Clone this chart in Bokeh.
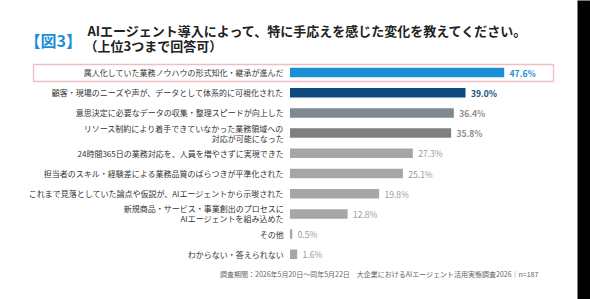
from bokeh.plotting import figure
from bokeh.models import ColumnDataSource, Range1d, Label, BoxAnnotation
from bokeh.core.properties import value
from bokeh.embed import file_html
from bokeh.resources import INLINE

categories = [
    "属人化していた業務ノウハウの形式知化・継承が進んだ",
    "顧客・現場のニーズや声が、データとして体系的に可視化された",
    "意思決定に必要なデータの収集・整理スピードが向上した",
    "リソース制約により着手できていなかった業務領域への\n対応が可能になった",
    "24時間365日の業務対応を、人員を増やさずに実現できた",
    "担当者のスキル・経験差による業務品質のばらつきが平準化された",
    "これまで見落としていた論点や仮説が、AIエージェントから示唆された",
    "新規商品・サービス・事業創出のプロセスに\nAIエージェントを組み込めた",
    "その他",
    "わからない・答えられない",
]
values = [47.6, 39.0, 36.4, 35.8, 27.3, 25.1, 19.8, 12.8, 0.5, 1.6]
value_labels = ["47.6%", "39.0%", "36.4%", "35.8%", "27.3%", "25.1%", "19.8%", "12.8%", "0.5%", "1.6%"]

bar_colors = ["#1a8fd6", "#0e4a7e", "#7d8a94", "#7f7f7f", "#a6a6a6", "#a6a6a6",
              "#a6a6a6", "#a6a6a6", "#a6a6a6", "#a6a6a6"]
label_colors = ["#1a8fd6", "#0e4a7e", "#8c8c8c", "#8c8c8c", "#9a9a9a", "#9a9a9a",
                "#9a9a9a", "#9a9a9a", "#9a9a9a", "#9a9a9a"]
label_styles = ["bold", "bold", "bold", "bold", "normal", "normal", "normal", "normal", "normal", "normal"]

W, H = 590, 299
x0_px, px_per_pct = 289.5, 4.5
y0_px, row_px = 72.0, 20.2

idx = list(range(len(categories)))
src = ColumnDataSource(dict(
    y=idx, v=values, vl=value_labels,
    bc=bar_colors, lc=label_colors, ls=label_styles,
    vx=[v + 1.2 for v in values],
))

# category labels split into lines, stacked around each bar's centre
lx, ly, lt = [], [], []
for i, c in enumerate(categories):
    parts = c.split("\n")
    n = len(parts)
    for k, t in enumerate(parts):
        lx.append(-1.4)
        ly.append(i + (k - (n - 1) / 2) * 0.5)
        lt.append(t)
lsrc = ColumnDataSource(dict(x=lx, y=ly, t=lt))

x_end = (W - x0_px) / px_per_pct
p = figure(width=W, height=H, output_backend="svg", toolbar_location=None,
           x_range=Range1d(-x0_px / px_per_pct, x_end),
           y_range=Range1d((H - y0_px) / row_px, -y0_px / row_px),
           min_border=0, border_fill_color="white", background_fill_color="white")
p.axis.visible = False
p.grid.visible = False
p.outline_line_color = None

p.hbar(y="y", left=0, right="v", height=0.47, fill_color="bc", line_color=None, source=src)

p.text(x="x", y="y", text="t", source=lsrc, text_align="right", text_baseline="middle",
       text_font=value("Noto Sans CJK JP"), text_font_size="8px", text_color="#333333")
p.text(x="vx", y="y", text="vl", source=src, text_align="left", text_baseline="middle",
       text_font=value("Noto Sans CJK JP"), text_font_size="8.5px", text_color="lc",
       text_font_style="ls")

# highlight box around first row
p.add_layout(BoxAnnotation(left=33, right=553, top=H - 64, bottom=H - 81,
                           left_units="screen", right_units="screen",
                           top_units="screen", bottom_units="screen",
                           fill_alpha=0, line_color="#c8282e", line_width=1.3))

# titles
p.add_layout(Label(x=24, y=H - 39, x_units="screen", y_units="screen", text="【図3】",
                   text_font="Noto Sans CJK JP", text_font_size="16px", text_font_style="bold",
                   text_color="#1a8fd6", text_baseline="middle"))
p.add_layout(Label(x=87, y=H - 30, x_units="screen", y_units="screen",
                   text="AIエージェント導入によって、特に手応えを感じた変化を教えてください。",
                   text_font="Noto Sans CJK JP", text_font_size="13px", text_font_style="bold",
                   text_color="#222222", text_baseline="middle"))
p.add_layout(Label(x=84, y=H - 45, x_units="screen", y_units="screen",
                   text="（上位3つまで回答可）",
                   text_font="Noto Sans CJK JP", text_font_size="13px", text_font_style="bold",
                   text_color="#222222", text_baseline="middle"))
p.add_layout(Label(x=538, y=H - 273, x_units="screen", y_units="screen",
                   text="調査期間：2026年5月20日～同年5月22日　大企業におけるAIエージェント活用実態調査2026｜n=187",
                   text_font="Noto Sans CJK JP", text_font_size="7px",
                   text_color="#666666", text_baseline="middle", text_align="right"))

# dark strip at right edge of the picture
strip_left = (577 - x0_px) / px_per_pct
p.quad(left=[strip_left], right=[x_end + 5], bottom=[20], top=[-10],
       fill_color="black", line_color=None)

open("out.html", "w").write(file_html(p, INLINE))
